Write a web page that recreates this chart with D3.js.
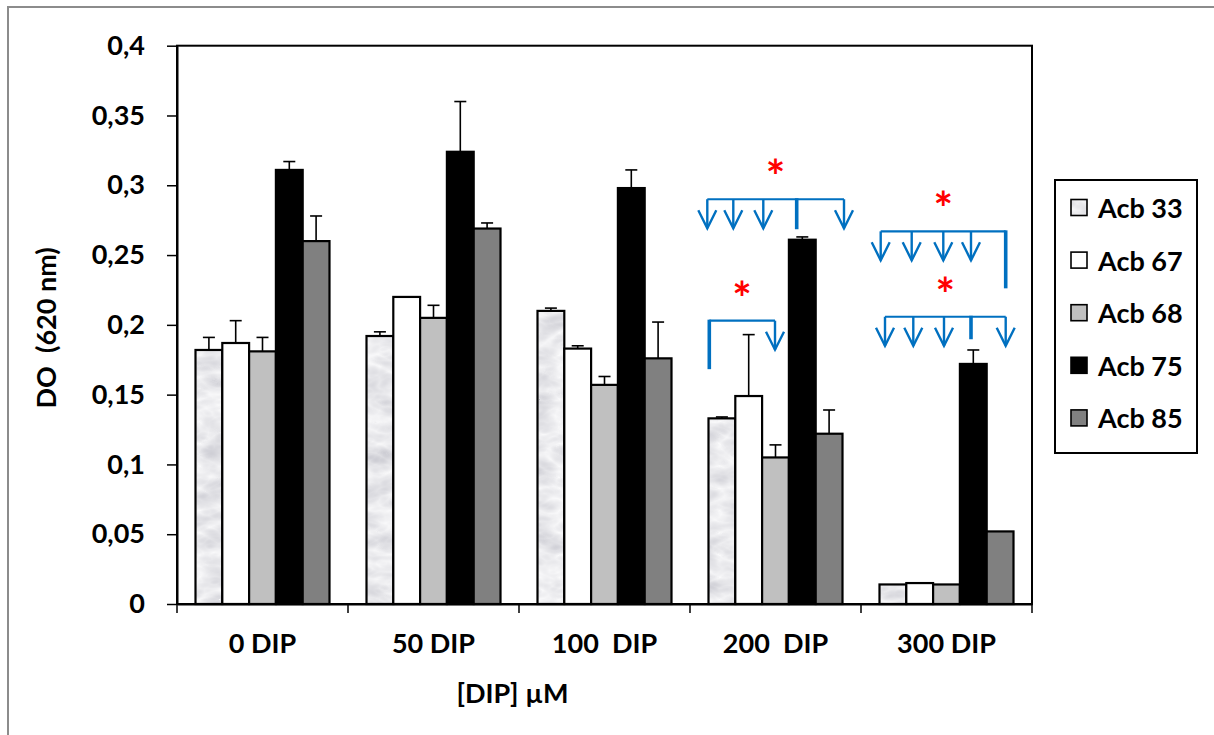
<!DOCTYPE html>
<html>
<head>
<meta charset="utf-8">
<script src="https://cdn.jsdelivr.net/npm/d3@7"></script>
<style>
  html, body { margin: 0; padding: 0; background: #fff; }
  svg { display: block; }
  text { font-family: Lato, "Open Sans", sans-serif; font-weight: bold; fill: #000; }
</style>
</head>
<body>
<svg id="chart" width="1214" height="735"></svg>
<script>
// ---------------- data ----------------
const categories = ["0 DIP", "50 DIP", "100  DIP", "200  DIP", "300 DIP"];
const seriesNames = ["Acb 33", "Acb 67", "Acb 68", "Acb 75", "Acb 85"];
const acb33 = [0.182, 0.192, 0.210, 0.133, 0.014];
const acb67 = [0.187, 0.220, 0.183, 0.149, 0.015];
const acb68 = [0.181, 0.205, 0.157, 0.105, 0.014];
const acb75 = [0.311, 0.324, 0.298, 0.261, 0.172];
const acb85 = [0.260, 0.269, 0.176, 0.122, 0.052];
const acb33Err = [0.009, 0.003, 0.002, 0.001, 0];
const acb67Err = [0.016, 0, 0.002, 0.044, 0];
const acb68Err = [0.010, 0.009, 0.006, 0.009, 0];
const acb75Err = [0.006, 0.036, 0.013, 0.002, 0.010];
const acb85Err = [0.018, 0.004, 0.026, 0.017, 0];
const yTicks = [0, 0.05, 0.1, 0.15, 0.2, 0.25, 0.3, 0.35, 0.4];
const yTitle = "DO  (620 nm)";
const xTitle = "[DIP] µM";

const values = [acb33, acb67, acb68, acb75, acb85];
const errors = [acb33Err, acb67Err, acb68Err, acb75Err, acb85Err];
const fills = ["url(#marble)", "#ffffff", "#c0c0c0", "#000000", "#808080"];

// significance brackets (series index, pixel nudge)
const brackets = [
  { cat: "200  DIP", level: 0.290, arrows: [[0, -14.6], [1, -15.4], [2, -12.2], [4, 14.9]], ref: [3, -5.6, 30] },
  { cat: "200  DIP", level: 0.203, arrows: [[2, -0.5]], ref: [0, -12.6, 48.5] },
  { cat: "300 DIP", level: 0.267, arrows: [[0, -12.2], [1, -8], [2, -3.2], [3, -2.3]], ref: [4, 5.6, 57] },
  { cat: "300 DIP", level: 0.2058, arrows: [[0, -7.9], [1, -6.4], [2, -2.5], [4, 5.6]], ref: [3, -2.3, 22.5] }
];

// ---------------- layout ----------------
const svg = d3.select("#chart");
const pLeft = 177, pRight = 1032, pTop = 45.7, pBottom = 604;

const defs = svg.append("defs");
const mf = defs.append("filter").attr("id", "marbleF").attr("x", 0).attr("y", 0)
  .attr("width", 1).attr("height", 1).attr("filterUnits", "objectBoundingBox");
mf.append("feTurbulence").attr("type", "turbulence").attr("baseFrequency", "0.025 0.045")
  .attr("numOctaves", 3).attr("seed", 7).attr("result", "t");
mf.append("feColorMatrix").attr("in", "t").attr("type", "matrix")
  .attr("values", "-0.45 0 0 0 0.95  -0.45 0 0 0 0.95  -0.4 0 0 0 0.96  0 0 0 0 1");
const pat = defs.append("pattern").attr("id", "marble").attr("patternUnits", "userSpaceOnUse")
  .attr("width", 1214).attr("height", 735);
pat.append("rect").attr("width", 1214).attr("height", 735).attr("fill", "#e8e8e8").attr("filter", "url(#marbleF)");

// outer chart frame
svg.append("rect").attr("x", 8).attr("y", 7).attr("width", 1230).attr("height", 760)
  .attr("fill", "#fff").attr("stroke", "#8c8c8c").attr("stroke-width", 2);

const x = d3.scaleBand().domain(categories).range([pLeft, pRight]).padding(0);
const xs = d3.scaleBand().domain(d3.range(seriesNames.length))
  .range([18.5, x.bandwidth() - 18.5]).padding(0);
const y = d3.scaleLinear().domain([0, 0.4]).range([pBottom, pTop]);
const fmt = d => d3.format(".2~f")(d).replace(".", ",");

// plot area border
svg.append("rect").attr("x", pLeft).attr("y", pTop).attr("width", pRight - pLeft).attr("height", pBottom - pTop)
  .attr("fill", "none").attr("stroke", "#000").attr("stroke-width", 2);

// bars
const gBars = svg.append("g");
seriesNames.forEach((s, i) => {
  gBars.selectAll(null).data(categories).enter().append("rect")
    .attr("x", (c) => x(c) + xs(i))
    .attr("y", (c, j) => y(values[i][j]))
    .attr("width", xs.bandwidth())
    .attr("height", (c, j) => y(0) - y(values[i][j]))
    .attr("fill", fills[i]).attr("stroke", "#000").attr("stroke-width", 2.2);
});

// error bars
const gErr = svg.append("g").attr("stroke", "#000").attr("stroke-width", 1.6);
seriesNames.forEach((s, i) => {
  categories.forEach((c, j) => {
    const e = errors[i][j];
    if (!e) return;
    const cx = x(c) + xs(i) + xs.bandwidth() / 2;
    gErr.append("line").attr("x1", cx).attr("x2", cx).attr("y1", y(values[i][j])).attr("y2", y(values[i][j] + e));
    gErr.append("line").attr("x1", cx - 6).attr("x2", cx + 6).attr("y1", y(values[i][j] + e)).attr("y2", y(values[i][j] + e));
  });
});

// y axis
const yAxis = svg.append("g").attr("transform", `translate(${pLeft},0)`)
  .call(d3.axisLeft(y).tickValues(yTicks).tickFormat(fmt).tickSize(10).tickSizeOuter(0).tickPadding(22));
yAxis.select(".domain").attr("stroke", "#000").attr("stroke-width", 2);
yAxis.selectAll(".tick line").attr("stroke", "#000").attr("stroke-width", 1.5);
yAxis.selectAll(".tick text").attr("font-size", 27).attr("font-family", "Lato").attr("font-weight", "bold").attr("fill", "#000");

// x axis (labels)
const xAxis = svg.append("g").attr("transform", `translate(0,${pBottom})`)
  .call(d3.axisBottom(x).tickSize(0).tickSizeOuter(0).tickPadding(30));
xAxis.select(".domain").attr("stroke", "#000").attr("stroke-width", 2);
xAxis.selectAll(".tick text").attr("font-size", 27).attr("font-family", "Lato").attr("font-weight", "bold")
  .attr("fill", "#000").style("white-space", "pre");
// category boundary ticks
const bounds = categories.map(c => x(c)).concat([x.range()[1]]);
svg.append("g").selectAll("line").data(bounds).enter().append("line")
  .attr("x1", d => d).attr("x2", d => d).attr("y1", pBottom).attr("y2", pBottom + 9)
  .attr("stroke", "#000").attr("stroke-width", 1.5);

// axis titles
svg.append("text").attr("x", (pLeft + pRight) / 2 - 92).attr("y", 703).attr("text-anchor", "middle")
  .attr("font-size", 27).text(xTitle);
svg.append("text").attr("transform", `translate(45,${(pTop + pBottom) / 2 + 3}) rotate(-90)`)
  .attr("text-anchor", "middle").attr("dominant-baseline", "central")
  .attr("font-size", 27).style("white-space", "pre").text(yTitle);

// significance annotations
const blue = "#0070c0";
const gAnn = svg.append("g").attr("fill", "none").attr("stroke", blue);
brackets.forEach(b => {
  const cx = (i, off) => x(b.cat) + xs(i) + xs.bandwidth() / 2 + off;
  const ly = y(b.level);
  const xsAll = b.arrows.map(a => cx(a[0], a[1])).concat([cx(b.ref[0], b.ref[1])]);
  const x0 = d3.min(xsAll), x1 = d3.max(xsAll);
  gAnn.append("line").attr("x1", x0).attr("x2", x1).attr("y1", ly).attr("y2", ly).attr("stroke-width", 2.2);
  b.arrows.forEach(a => {
    const ax = cx(a[0], a[1]);
    const tip = ly + 29;
    gAnn.append("line").attr("x1", ax).attr("x2", ax).attr("y1", ly).attr("y2", tip).attr("stroke-width", 2.4);
    gAnn.append("path").attr("d", `M${ax - 9},${tip - 18} L${ax},${tip} L${ax + 9},${tip - 18}`)
      .attr("stroke-width", 2.4).attr("stroke-linejoin", "miter");
  });
  const rx = cx(b.ref[0], b.ref[1]);
  gAnn.append("line").attr("x1", rx).attr("x2", rx).attr("y1", ly - 1).attr("y2", ly + b.ref[2]).attr("stroke-width", 3.6);
  svg.append("text").attr("x", (x0 + x1) / 2).attr("y", ly - 33 + 27).attr("text-anchor", "middle")
    .attr("font-size", 46).style("fill", "#ff0000").text("*");
});

// legend
const lg = svg.append("g");
lg.append("rect").attr("x", 1055).attr("y", 180).attr("width", 142).attr("height", 273)
  .attr("fill", "#fff").attr("stroke", "#000").attr("stroke-width", 2);
seriesNames.forEach((s, i) => {
  const cy = 207.5 + i * 52.6;
  lg.append("rect").attr("x", 1071).attr("y", cy - 8).attr("width", 16).attr("height", 16)
    .attr("fill", fills[i]).attr("stroke", "#000").attr("stroke-width", 1.6);
  lg.append("text").attr("x", 1098).attr("y", cy).attr("dominant-baseline", "central")
    .attr("font-size", 27).text(s);
});
</script>
</body>
</html>
